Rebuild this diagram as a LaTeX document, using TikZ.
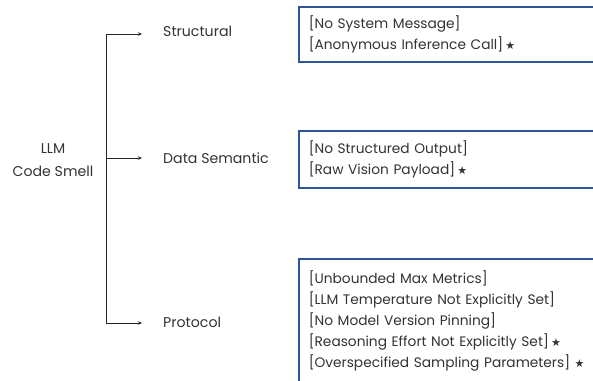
\documentclass[tikz,border=0pt]{standalone}
\usepackage{fontspec}
\setmainfont{Poppins}
\newfontfamily\symfont{DejaVu Sans}
\usetikzlibrary{arrows.meta,shadows}
\definecolor{boxblue}{HTML}{2F5597}
\definecolor{txt}{HTML}{333333}
\tikzset{
  lbl/.style={anchor=west, text=txt, font=\fontsize{14.2}{16}\selectfont, inner sep=0pt},
  rootlbl/.style={align=center, text=txt, font=\fontsize{14.2}{23}\selectfont, inner sep=0pt},
  smellbox/.style={draw=boxblue, line width=1.6bp, anchor=north west, fill=white,
    text width=330bp, inner xsep=10bp, inner ysep=0pt, align=left, text=txt,
    font=\fontsize{13.8}{21}\selectfont,
    drop shadow={shadow xshift=0bp, shadow yshift=-1.5bp, fill=black!25, opacity=0.8}},
  branch/.style={draw=black!85, line width=0.8bp, -{Stealth[length=4bp,width=3.5bp]}},
  trunk/.style={draw=black!85, line width=0.8bp}
}
\newcommand{\st}{\,{\symfont\fontsize{11}{11}\selectfont ★}}
\begin{document}
\begin{tikzpicture}[x=1bp,y=-1bp]
\useasboundingbox (0,0) rectangle (593,380);
\clip (0,0) rectangle (593,380);
\node[rootlbl] (root) at (53,160) {LLM\\Code Smell};
\coordinate (ttop) at (106,34);
\coordinate (tmid) at (106,158);
\coordinate (tbot) at (106,323);
\coordinate (a1) at (142,34);
\coordinate (a2) at (142,158);
\coordinate (a3) at (142,323);
\node[lbl] (n1) at (163,31) {Structural};
\node[lbl] (n2) at (163,158) {Data Semantic};
\node[lbl] (n3) at (163,322) {Protocol};
\draw[trunk] (ttop) -- (tbot);
\draw[branch] (ttop) -- (a1);
\draw[branch] (tmid) -- (a2);
\draw[branch] (tbot) -- (a3);
\node[smellbox, minimum height=55bp] (b1) at (298,6) {[No System Message]\\{}[Anonymous Inference Call]\st};
\node[smellbox, minimum height=57bp] (b2) at (298,130) {[No Structured Output]\\{}[Raw Vision Payload]\st};
\node[smellbox, minimum height=124bp] (b3) at (298,258) {[Unbounded Max Metrics]\\{}[LLM Temperature Not Explicitly Set]\\{}[No Model Version Pinning]\\{}[Reasoning Effort Not Explicitly Set]\st\\{}[Overspecified Sampling Parameters]\,\st};
\end{tikzpicture}
\end{document}
